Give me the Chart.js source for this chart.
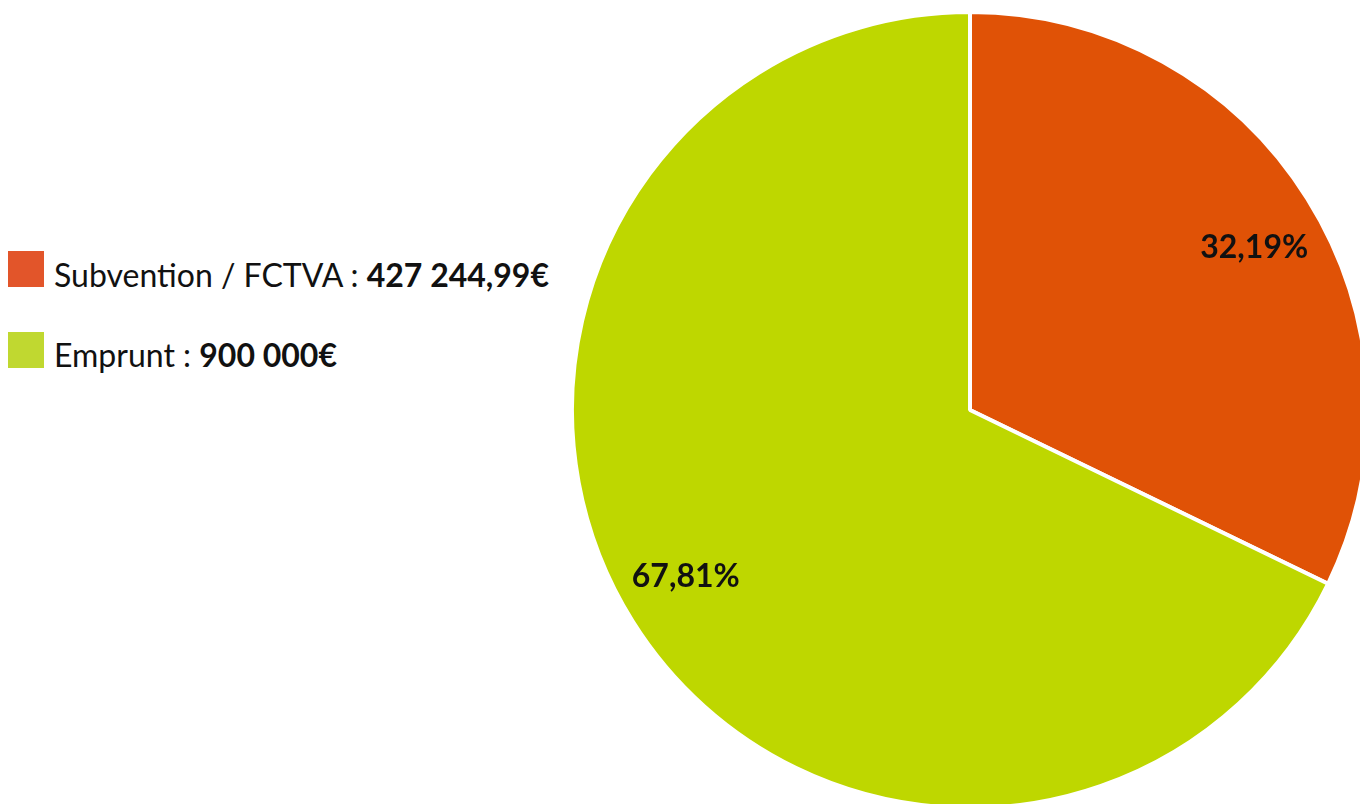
<!DOCTYPE html>
<html>
<head>
<meta charset="utf-8">
<script src="https://cdn.jsdelivr.net/npm/chart.js@4.4.0/dist/chart.umd.min.js"></script>
<style>
  html, body { margin: 0; padding: 0; background: #fff; overflow: hidden; width: 1360px; height: 804px; }
  body { position: relative; font-family: Lato, sans-serif; }
  #pieBox { position: absolute; left: 570px; top: 10px; width: 800px; height: 800px; }
  .legendItem { position: absolute; left: 0; font-size: 32px; line-height: 32px; color: #111; white-space: nowrap; }
  .legendItem .box { position: absolute; left: 8px; width: 36px; height: 36px; }
  .legendItem .txt { position: absolute; left: 54px; }
  .legendItem b { font-weight: 700; }
</style>
</head>
<body>
<div id="legend"></div>
<div id="pieBox"><canvas id="graphicPie" width="800" height="800"></canvas></div>
<script>
const labels = ["Subvention / FCTVA", "Emprunt"]
const amounts = [427244.99, 900000]
const amountTexts = ["427 244,99€", "900 000€"]
const sliceColors = ["#E05206", "#BED700"]
const legendColors = ["#E2552A", "#C0D830"]

// legende a gauche
const legend = document.getElementById("legend")
const legendTops = [251, 332]
const textShift = [8, 7]
labels.forEach((name, i) => {
    const item = document.createElement("div")
    item.className = "legendItem"
    item.style.top = legendTops[i] + "px"
    item.innerHTML = '<span class="box" style="background:' + legendColors[i] + '"></span>' +
        '<span class="txt" style="top:' + textShift[i] + 'px">' + name + ' : <b>' + amountTexts[i] + '</b></span>'
    legend.appendChild(item)
})

const total = amounts.reduce((a, b) => a + b, 0)

const percentLabels = {
    id: "percentLabels",
    afterDatasetsDraw(chart) {
        const ctx = chart.ctx
        const meta = chart.getDatasetMeta(0)
        ctx.save()
        ctx.font = "bold 32px Lato"
        ctx.fillStyle = "#111"
        ctx.textAlign = "center"
        ctx.textBaseline = "middle"
        meta.data.forEach((arc, i) => {
            const p = arc.getProps(["x", "y", "startAngle", "endAngle", "outerRadius"], true)
            const mid = (p.startAngle + p.endAngle) / 2 + 0.035
            const r = p.outerRadius * 0.825
            const pct = (amounts[i] / total * 100).toFixed(2).replace(".", ",") + "%"
            ctx.fillText(pct, p.x + Math.cos(mid) * r, p.y + Math.sin(mid) * r + 2)
        })
        ctx.restore()
    }
}

const ctxPie = document.getElementById("graphicPie").getContext("2d")
const pieChart = new Chart(ctxPie, {
    type: "pie",
    data: {
        labels: labels,
        datasets: [{
            data: amounts,
            backgroundColor: sliceColors,
            borderColor: "#ffffff",
            borderWidth: 4
        }]
    },
    options: {
        responsive: false,
        animation: false,
        plugins: {
            legend: { display: false },
            tooltip: { enabled: false }
        }
    },
    plugins: [percentLabels]
})
</script>
</body>
</html>
